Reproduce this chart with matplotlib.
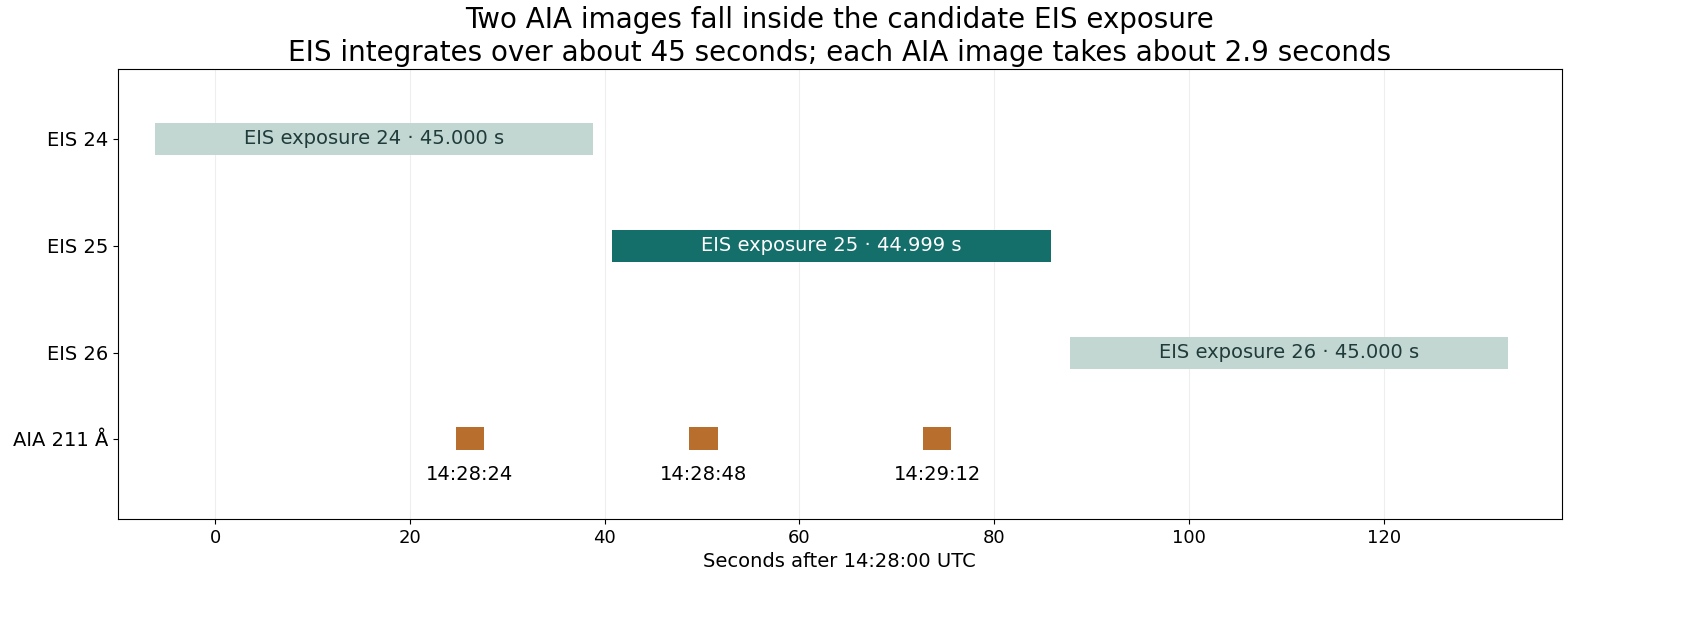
import matplotlib.pyplot as plt

eis_labels = ["EIS 24", "EIS 25", "EIS 26"]
eis_start = [-6.2, 40.8, 87.8]
eis_duration = [45.000, 44.999, 45.000]
eis_y = [3, 2, 1]
eis_active = [False, True, False]

aia_start = [24.7, 48.7, 72.7]
aia_duration = [2.9, 2.9, 2.9]
aia_times = ["14:28:24", "14:28:48", "14:29:12"]
aia_y = 0.2

fig, ax = plt.subplots(figsize=(17.05, 6.35), dpi=100)

for lab, s, d, y, act in zip(eis_labels, eis_start, eis_duration, eis_y, eis_active):
    color = "#146e6a" if act else "#c2d6d2"
    ax.barh(y, d, left=s, height=0.3, color=color, zorder=2)
    ax.text(s + d / 2, y, f"{lab.replace('EIS', 'EIS exposure')} · {d:.3f} s",
            ha="center", va="center", fontsize=14,
            color="white" if act else "#1f3b3a", zorder=3)

for s, d, t in zip(aia_start, aia_duration, aia_times):
    ax.barh(aia_y, d, left=s, height=0.22, color="#b86e2c", zorder=2)
    ax.text(s + d / 2, aia_y - 0.34, t, ha="center", va="center", fontsize=14)

ax.set_yticks(eis_y + [aia_y])
ax.set_yticklabels(eis_labels + ["AIA 211 Å"], fontsize=14)
ax.tick_params(axis="x", labelsize=13)
ax.set_xlim(-10, 138.3)
ax.set_ylim(-0.55, 3.65)
ax.set_xticks(range(0, 121, 20))
ax.grid(axis="x", color="#eeeeee", zorder=0)
ax.set_axisbelow(True)
ax.set_xlabel("Seconds after 14:28:00 UTC", fontsize=14)
ax.set_title("Two AIA images fall inside the candidate EIS exposure\n"
             "EIS integrates over about 45 seconds; each AIA image takes about 2.9 seconds",
             fontsize=20)

plt.subplots_adjust(left=0.069, right=0.916, top=0.891, bottom=0.183)
plt.savefig("out.png")
